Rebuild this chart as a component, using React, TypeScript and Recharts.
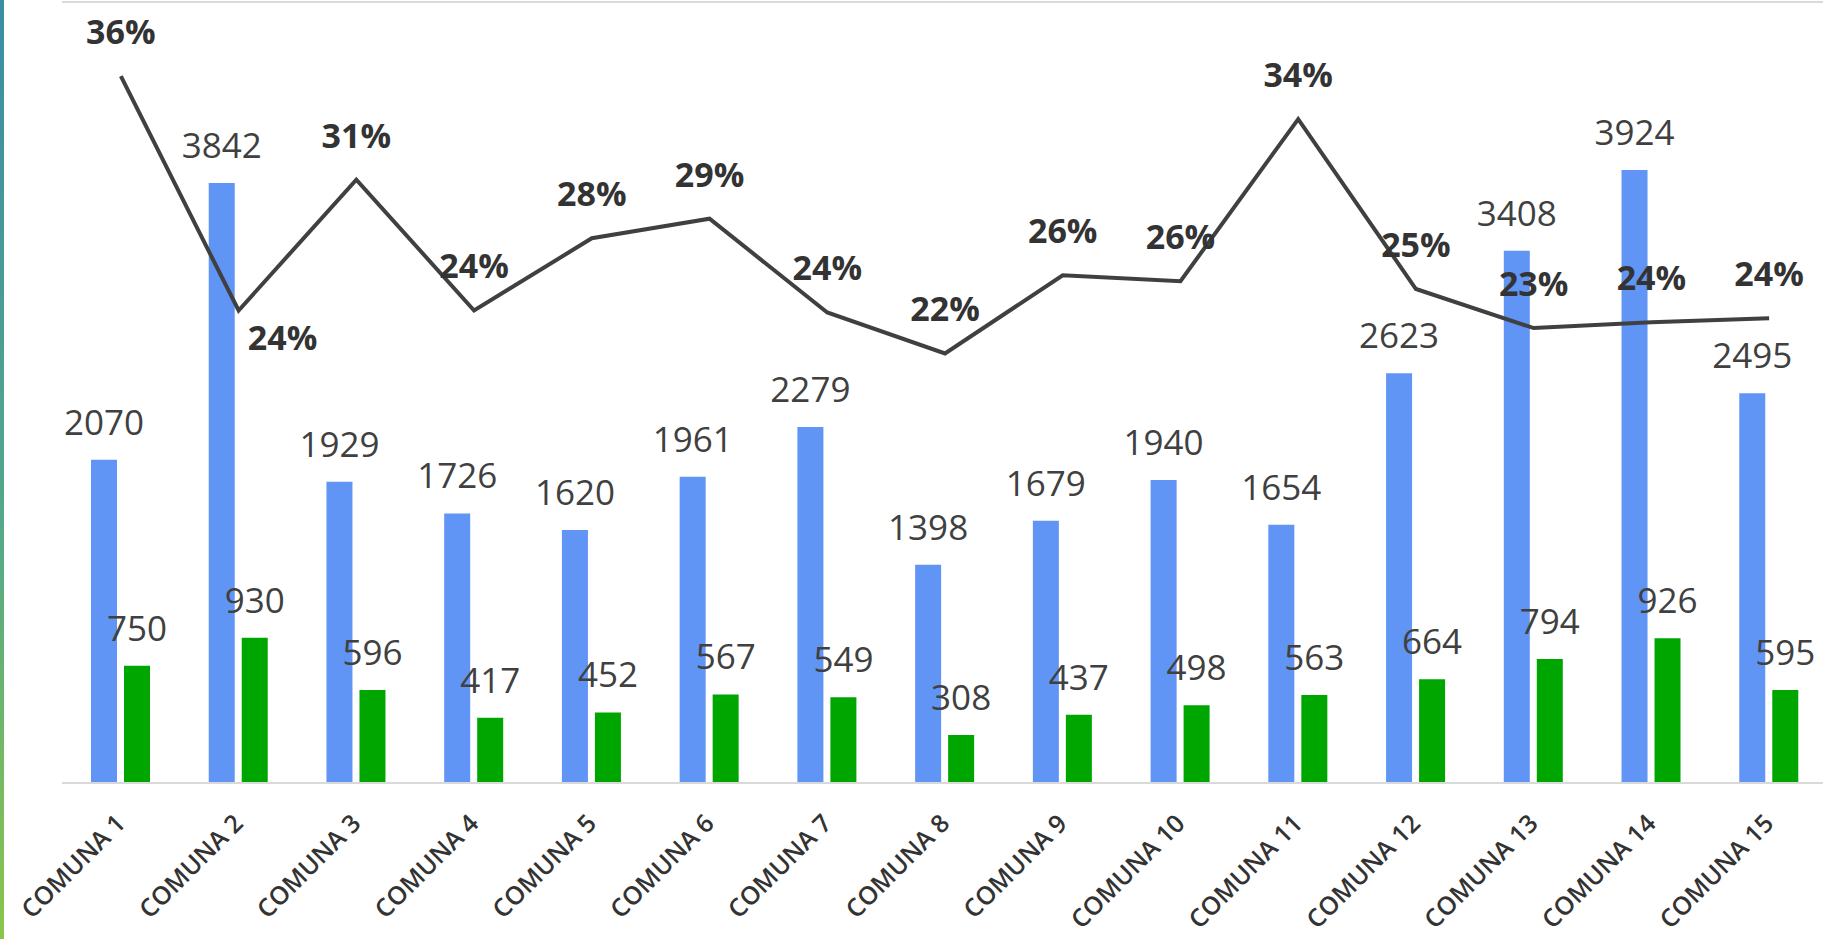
import React from 'react';
import {
  Bar,
  CartesianGrid,
  ComposedChart,
  LabelList,
  Line,
  XAxis,
  YAxis,
} from 'recharts';

// values
const comunas = [
  'COMUNA 1', 'COMUNA 2', 'COMUNA 3', 'COMUNA 4', 'COMUNA 5',
  'COMUNA 6', 'COMUNA 7', 'COMUNA 8', 'COMUNA 9', 'COMUNA 10',
  'COMUNA 11', 'COMUNA 12', 'COMUNA 13', 'COMUNA 14', 'COMUNA 15',
];
const totalValues = [2070, 3842, 1929, 1726, 1620, 1961, 2279, 1398, 1679, 1940, 1654, 2623, 3408, 3924, 2495];
const subValues = [750, 930, 596, 417, 452, 567, 549, 308, 437, 498, 563, 664, 794, 926, 595];
const pctValues = [36.2, 24.2, 30.9, 24.2, 27.9, 28.9, 24.1, 22.0, 26.0, 25.7, 34.0, 25.3, 23.3, 23.6, 23.8];
const leftTicks = [0, 500, 1000, 1500, 2000, 2500, 3000, 3500, 4000, 4500, 5000];

const chartData = comunas.map((name, i) => ({
  name,
  total: totalValues[i],
  sub: subValues[i],
  pct: pctValues[i],
}));

const FONT = '"Open Sans", "Liberation Sans", sans-serif';
const TEXT = '#404040';

const CategoryTick = (props: any) => {
  const { x, y, payload } = props;
  const ax = x + 6;
  const ay = y + 42;
  return (
    <text
      x={ax}
      y={ay}
      transform={`rotate(-45, ${ax}, ${ay})`}
      textAnchor="end"
      fill="#333333"
      fontSize={25}
      fontWeight={600}
      fontFamily={FONT}
    >
      {payload.value}
    </text>
  );
};

const PctLabel = (props: any) => {
  const { x, y, value, index } = props;
  // the second point's label sits below-right of the line in the original
  const dx = index === 1 ? 44 : 0;
  const dy = index === 1 ? 40 : -32;
  return (
    <text
      x={x + dx}
      y={y + dy}
      textAnchor="middle"
      fill="#333333"
      fontSize={34}
      fontWeight={700}
      fontFamily={FONT}
    >
      {Math.round(value)}%
    </text>
  );
};

export default function App() {
  return (
    <div
      style={{
        position: 'fixed',
        left: 0,
        top: 0,
        width: 1823,
        height: 939,
        overflow: 'hidden',
        background: '#ffffff',
      }}
    >
      <div
        style={{
          position: 'absolute',
          left: 0,
          top: 0,
          width: 4,
          height: 939,
          background: 'linear-gradient(to bottom, #3a8ca4, #52a88a 55%, #8cc54a)',
        }}
      />
      <ComposedChart
        width={1830}
        height={939}
        data={chartData}
        margin={{ top: 2, right: 2, bottom: 126, left: 62 }}
        barSize={26}
        barGap={7}
      >
        <CartesianGrid yAxisId="left" vertical={false} stroke="#d9d9d9" strokeWidth={2} />
        <XAxis
          dataKey="name"
          height={30}
          axisLine={{ stroke: '#d9d9d9', strokeWidth: 2 }}
          tickLine={false}
          tickSize={0}
          tickMargin={0}
          interval={0}
          tick={<CategoryTick />}
        />
        <YAxis yAxisId="left" domain={[0, 5000]} ticks={leftTicks} width={0} tick={false} axisLine={false} tickLine={false} />
        <YAxis yAxisId="right" orientation="right" domain={[0, 40]} width={0} tick={false} axisLine={false} tickLine={false} />
        <Bar yAxisId="left" dataKey="total" fill="#6094f5" isAnimationActive={false}>
          <LabelList dataKey="total" position="top" offset={25} fill={TEXT} fontSize={35} fontFamily={FONT} />
        </Bar>
        <Bar yAxisId="left" dataKey="sub" fill="#00a600" isAnimationActive={false}>
          <LabelList dataKey="sub" position="top" offset={25} fill={TEXT} fontSize={35} fontFamily={FONT} />
        </Bar>
        <Line
          yAxisId="right"
          type="linear"
          dataKey="pct"
          stroke="#404040"
          strokeWidth={4}
          dot={false}
          activeDot={false}
          isAnimationActive={false}
        >
          <LabelList dataKey="pct" content={<PctLabel />} />
        </Line>
      </ComposedChart>
    </div>
  );
}
